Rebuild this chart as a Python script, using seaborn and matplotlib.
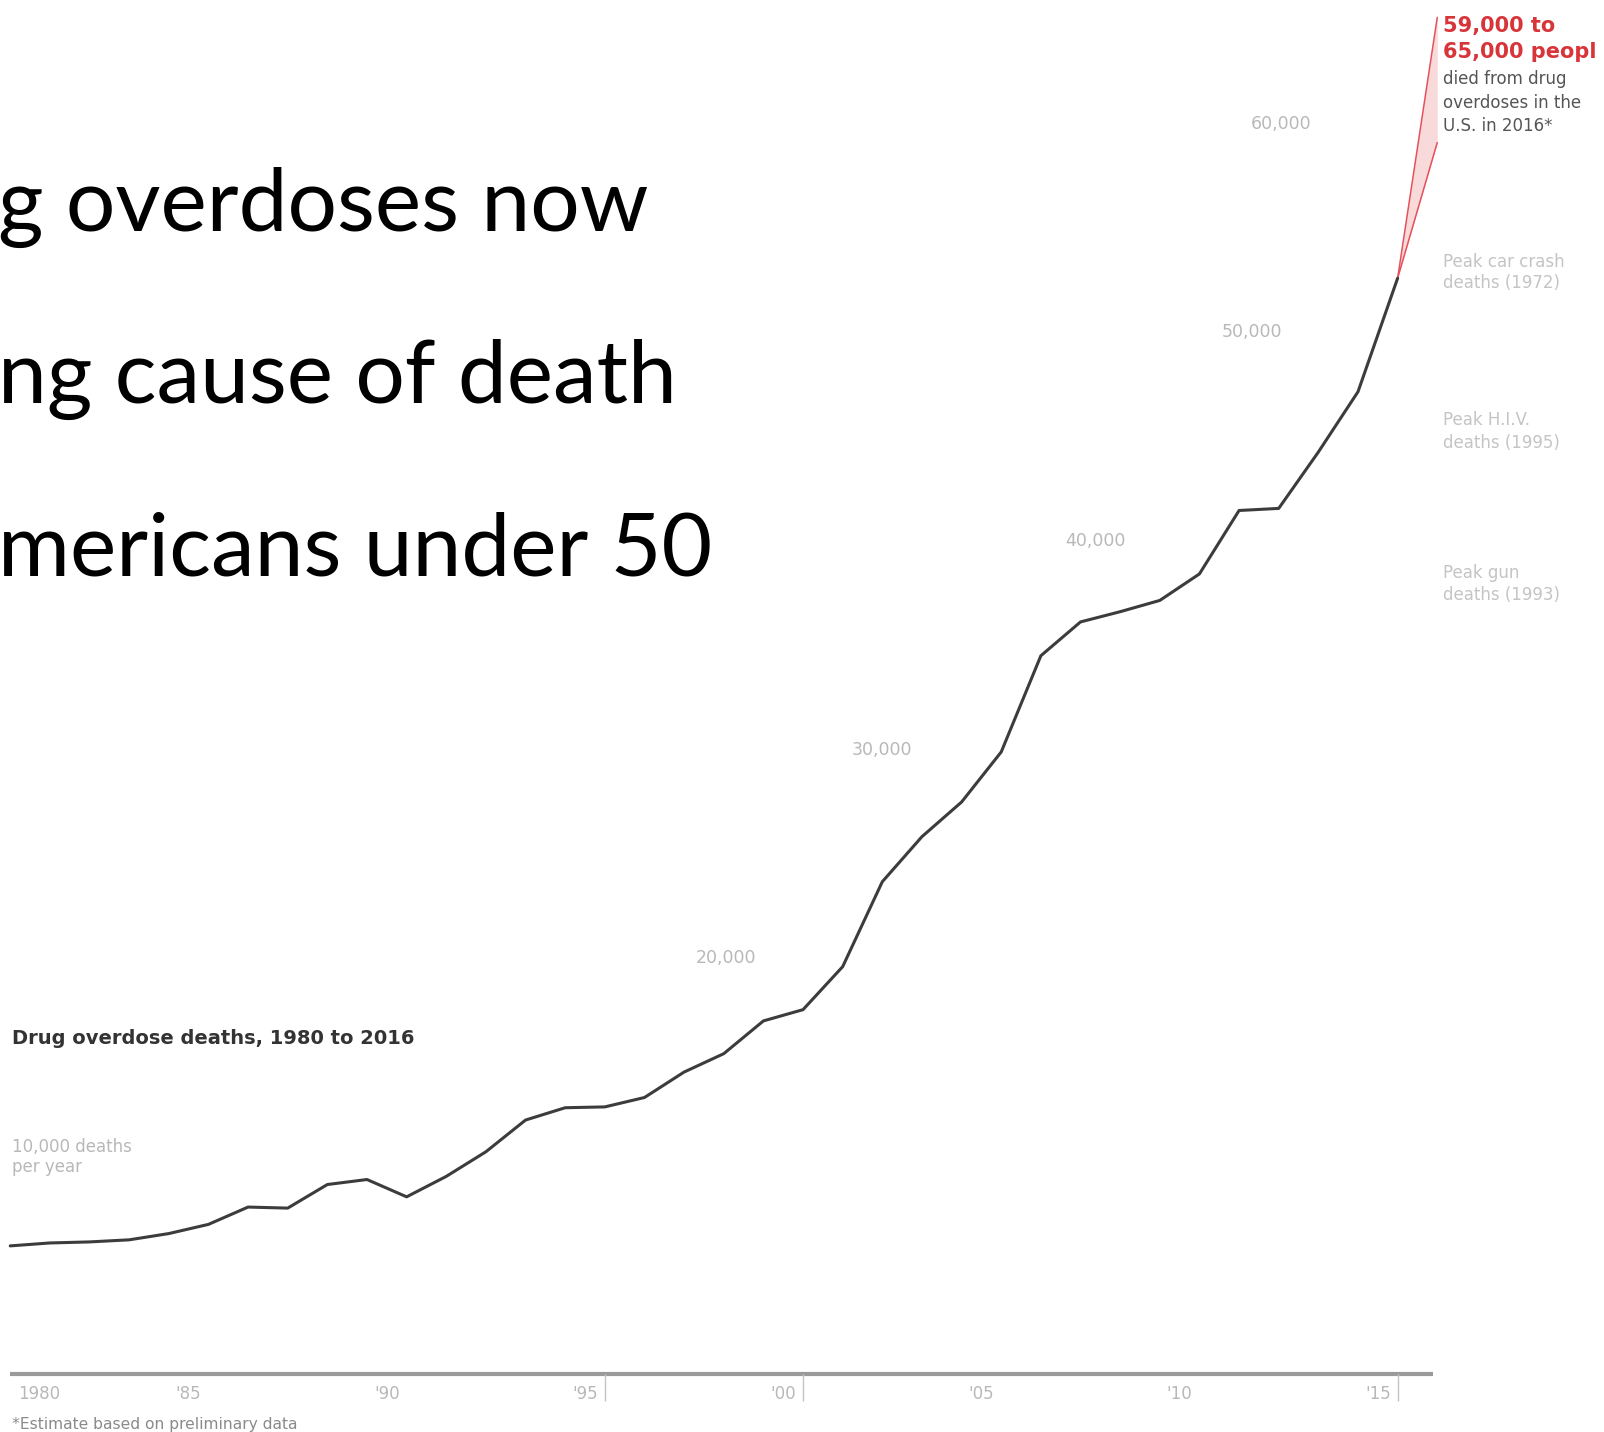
import matplotlib
matplotlib.use("Agg")
import matplotlib.pyplot as plt
import seaborn as sns
import pandas as pd

# ---------------- data ----------------
years = list(range(1980, 2016))
deaths = [6130, 6270, 6320, 6420, 6720, 7160, 7990, 7940, 9070, 9310,
          8480, 9460, 10640, 12160, 12750, 12790, 13240, 14460, 15340, 16910,
          17450, 19510, 23580, 25740, 27400, 29800, 34410, 36030, 36520, 37060,
          38330, 41370, 41470, 44170, 47060, 52500]
estimate_year = 2016
estimate_low = 59000
estimate_high = 65000

y_gridvals = [20000, 30000, 40000, 50000, 60000]
y_gridlabels = ["20,000", "30,000", "40,000", "50,000", "60,000"]
x_ticklabels = ["1980", "'85", "'90", "'95", "'00", "'05", "'10", "'15"]
x_tickyears = [1980, 1985, 1990, 1995, 2000, 2005, 2010, 2015]
x_marked = [1995, 2000, 2015]

slide_lines = ["g overdoses now", "ng cause of death", "mericans under 50"]

# ---------------- figure ----------------
sns.set_theme(style="white")
plt.rcParams["font.family"] = ["Lato", "DejaVu Sans"]

SMALL = ["DejaVu Sans"]
BOLD = ["DejaVu Sans"]

W, H = 1604, 1432
fig = plt.figure(figsize=(W / 100, H / 100), dpi=100)
fig.patch.set_facecolor("white")
ax = fig.add_axes([0, 0, 1, 1])
ax.set_facecolor("white")

df = pd.DataFrame({"year": years, "deaths": deaths})
sns.lineplot(data=df, x="year", y="deaths", ax=ax, color="#3c3c3c",
             linewidth=2.2, zorder=5)

# estimate fan for 2016
last_y, last_v = years[-1], deaths[-1]
ax.fill_between([last_y, estimate_year], [last_v, estimate_low],
                [last_v, estimate_high], color="#f8dada", lw=0, zorder=3)
ax.plot([last_y, estimate_year], [last_v, estimate_high], color="#e5505a",
        lw=1.1, zorder=4)
ax.plot([last_y, estimate_year], [last_v, estimate_low], color="#e5505a",
        lw=1.1, zorder=4)

# axis mapping so the axes fill the figure
px_per_year = 39.64
x0_px = 10.23
ax.set_xlim(1980 - x0_px / px_per_year, 1980 + (W - x0_px) / px_per_year)
y0_px = 1373.8
px_per_val = 0.020868
ax.set_ylim(-(H - y0_px) / px_per_val, y0_px / px_per_val)
ax.axis("off")

# baseline
ax.hlines(0, 1980, 2015.9, color="#9a9a9a", lw=3, zorder=2)
ax.vlines(x_marked, -1300, 0, color="#c4c4c4", lw=1, zorder=2)

# x tick labels
for yr, lab in zip(x_tickyears, x_ticklabels):
    if yr == 1980:
        ax.text(yr + 0.2, -960, lab, ha="left", va="center", fontsize=12,
                color="#b8b8b8", family=SMALL)
    else:
        ax.text(yr - 0.5, -960, lab, ha="center", va="center", fontsize=12,
                color="#b8b8b8", family=SMALL)

# value labels along the line
label_years = [1998.06, 2001.99, 2007.38, 2011.33, 2012.05]
for yr, v, lab in zip(label_years, y_gridvals, y_gridlabels):
    ax.text(yr, v, lab, ha="center", va="center_baseline", fontsize=12.5,
            color="#b8b8b8", family=SMALL)


def fx(px):
    return px / W


def fy(py):
    return 1 - py / H


def lines_at(x, ys, texts, **kw):
    for yy, t in zip(ys, texts):
        fig.text(fx(x), fy(yy), t, ha="left", va="center", **kw)


lines_at(12, [1147, 1167], ["10,000 deaths", "per year"], fontsize=12,
         color="#b8b8b8", family=SMALL)

# chart title
fig.text(fx(12), fy(1038), "Drug overdose deaths, 1980 to 2016", ha="left",
         va="center", fontsize=14, fontweight="bold", color="#333333",
         family=BOLD)

# footnote
fig.text(fx(12), fy(1425), "*Estimate based on preliminary data", ha="left",
         va="center", fontsize=11.2, color="#8a8a8a", family=SMALL)

# right annotations (the reference shows the second line cut at the edge)
lines_at(1443, [26, 51.5], ["59,000 to", "65,000 peopl"], fontsize=15,
         fontweight="bold", color="#d8353a", family=BOLD)
lines_at(1443, [79, 102.5, 126], ["died from drug", "overdoses in the",
                                  "U.S. in 2016*"],
         fontsize=12, color="#555555", family=SMALL)
lines_at(1443, [262, 283.5], ["Peak car crash", "deaths (1972)"],
         fontsize=12, color="#c4c4c4", family=SMALL)
lines_at(1443, [420, 443], ["Peak H.I.V.", "deaths (1995)"],
         fontsize=12, color="#c4c4c4", family=SMALL)
lines_at(1443, [573, 595], ["Peak gun", "deaths (1993)"],
         fontsize=12, color="#c4c4c4", family=SMALL)

# overlaid slide title text
for i, line in enumerate(slide_lines):
    fig.text(fx(-2), fy(231 + i * 172), line, ha="left", va="baseline",
             fontsize=63, color="black")

fig.savefig("out.png", dpi=100, facecolor="white")
